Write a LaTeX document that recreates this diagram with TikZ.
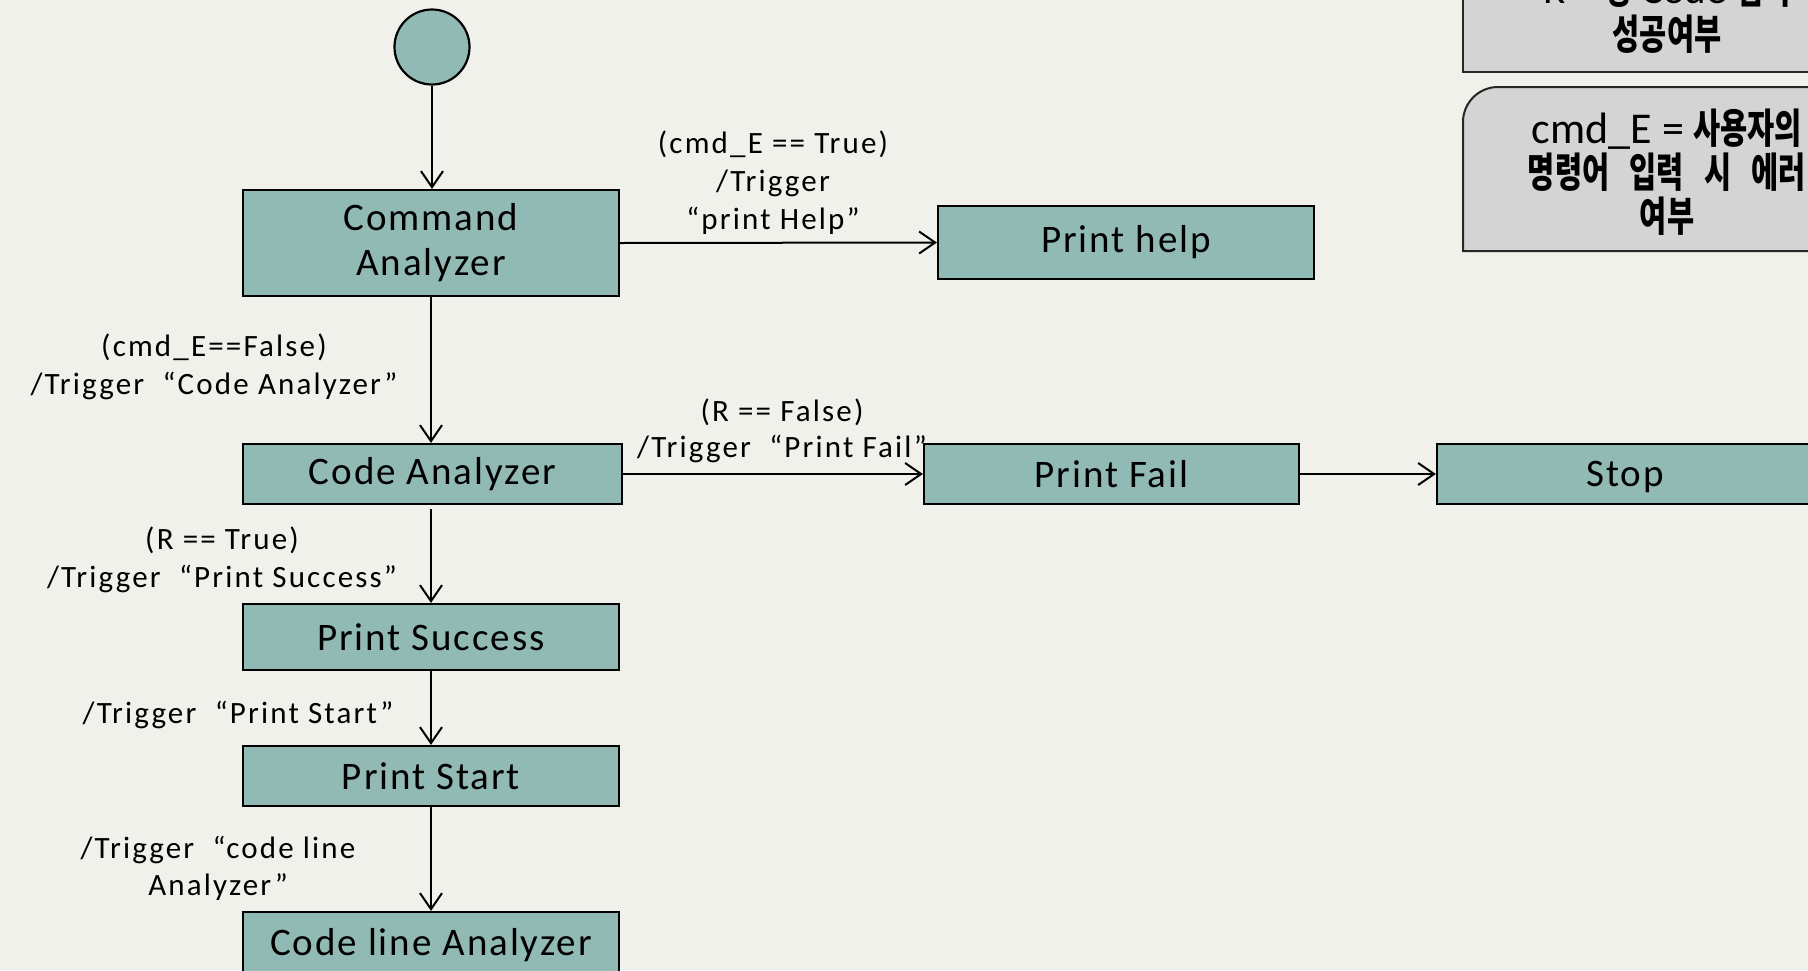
\documentclass[tikz,border=0pt]{standalone}
\usepackage{fontspec}
\setmainfont{Carlito}
\newfontfamily\lblfont{Carlito}[LetterSpace=7]
\newfontfamily\boxfont{Carlito}[LetterSpace=5]
\newfontfamily\krfont{Noto Sans CJK KR}[FakeStretch=0.72,WordSpace=3]
\newcommand\hg[1]{{\krfont\bfseries #1}}
\usetikzlibrary{arrows.meta}
\definecolor{paper}{RGB}{241,241,235}
\definecolor{stateteal}{RGB}{146,186,181}
\definecolor{notegray}{RGB}{212,212,212}

\begin{document}
\begin{tikzpicture}[x=1pt,y=-1pt,
  state/.style={draw=black, line width=2.2pt, fill=stateteal, minimum width=376pt,
    inner sep=0pt, align=center, font=\boxfont\fontsize{39}{45}\selectfont},
  initial/.style={circle, draw=black, line width=2.2pt, fill=stateteal, minimum size=75pt, inner sep=0pt},
  trans/.style={draw=black, line width=2pt, -{Straight Barb[length=16pt,width=22pt,line width=2pt]}},
  lbl/.style={align=center, inner sep=0pt, font=\lblfont\fontsize{31}{38}\selectfont},
  notebox/.style={draw=black!85, line width=2pt, fill=notegray},
  notetxt/.style={align=center, inner sep=0pt, font=\fontsize{41}{44}\selectfont}]

% page and paper
\useasboundingbox (0,0) rectangle (1808,970);
\fill[paper] (0,0) rectangle (1808,970);
\clip (0,0) rectangle (1808,970);

% legend boxes
\draw[notebox] (1463,-80) rectangle (1871,72);
\node[notetxt, font=\fontsize{41}{40}\selectfont] (noteR) at (1667,11) {R = \hg{정} Code \hg{입력}\\[6pt]\hg{성공여부}};
\draw[notebox] (1871,251) -- (1463,251) -- (1463,122)
  arc[start angle=180, end angle=270, radius=35] -- (1871,87) -- cycle;
\node[notetxt] (noteE) at (1667,172) {{\fontsize{44}{44}\selectfont cmd\_E =} \hg{사용자의}\\\hg{명령어 입력 시 에러}\\\hg{여부}};

% states
\node[initial] (init) at (432,47) {};
\node[state, minimum height=106pt] (cmd) at (431,243) {Command\\Analyzer};
\node[state, minimum height=73pt] (help) at (1126,242.5) {Print help};
\node[state, minimum width=379pt, minimum height=60pt] (code) at (432.5,474) {Code Analyzer};
\node[state, minimum width=375pt, minimum height=60pt] (fail) at (1111.5,474) {Print Fail};
\node[state, minimum height=60pt] (stop) at (1625,474) {\raisebox{0pt}[\height][0pt]{Stop}};
\node[state, minimum height=66pt] (succ) at (431,637) {Print Success};
\node[state, minimum height=60pt] (pstart) at (431,776) {Print Start};
\node[state, minimum height=66pt] (cla) at (431,945) {Code line Analyzer};

% transitions
\draw[trans] (init.south) -- (init.south |- cmd.north);
\draw[trans] (cmd.east) -- (help.west);
\draw[trans] (cmd.south) -- (cmd.south |- code.north);
\draw[trans] (code.east) -- (fail.west);
\draw[trans] (fail.east) -- (stop.west);
\draw[trans] ([yshift=-4pt]code.south -| succ.north) -- (succ.north);
\draw[trans] (succ.south) -- (pstart.north);
\draw[trans] (pstart.south) -- (cla.north);

% transition labels
\node[lbl] (lhelp) at (773,183) {(cmd\_E == True)\\/Trigger\\“print Help”};
\node[lbl] (lcode) at (214,367) {(cmd\_E==False)\\/Trigger\ \ “Code Analyzer”};
\node[lbl, font=\lblfont\fontsize{31}{36}\selectfont] (lfail) at (782,431) {(R == False)\\/Trigger\ \ “Print Fail”};
\node[lbl] (lsucc) at (222,560) {(R == True)\\/Trigger\ \ “Print Success”};
\node[lbl] (lstart) at (238,715) {/Trigger\ \ “Print Start”};
\node[lbl, font=\lblfont\fontsize{31}{37}\selectfont] (lline) at (218,868) {/Trigger\ \ “code line\\Analyzer”};
\end{tikzpicture}
\end{document}
